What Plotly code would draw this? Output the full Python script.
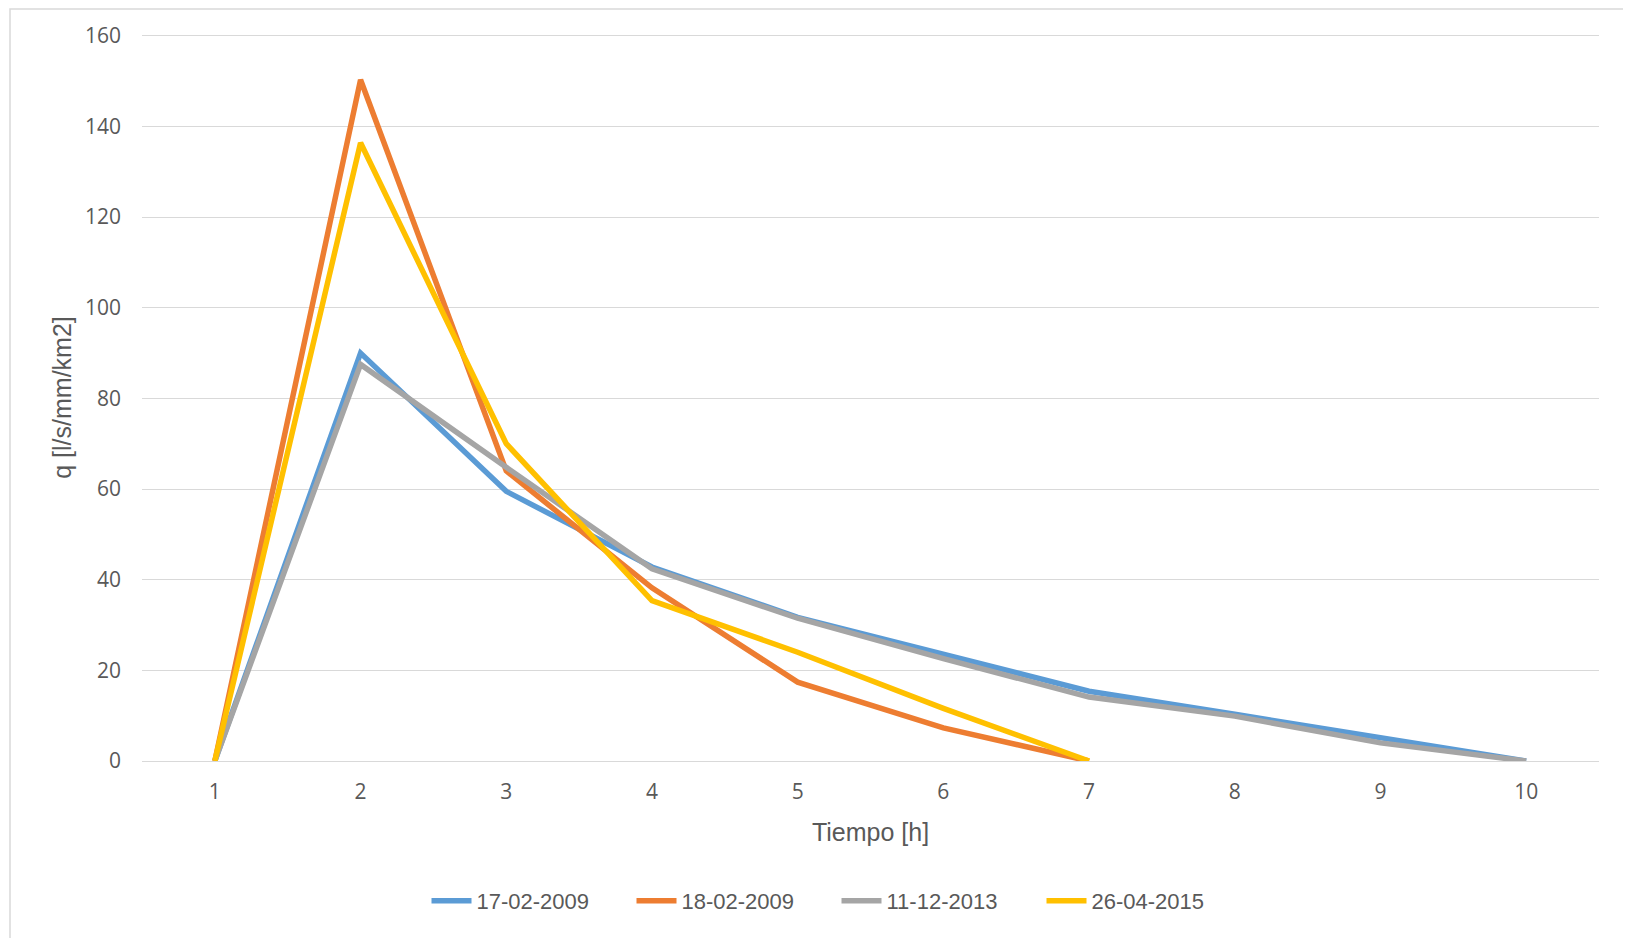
import plotly.graph_objects as go

tiempo = [1, 2, 3, 4, 5, 6, 7, 8, 9, 10]
s_17_02_2009 = [0, 90.0, 59.5, 42.8, 31.7, 23.4, 15.4, 10.3, 5.0, 0]
s_18_02_2009 = [0, 150.3, 64.0, 38.2, 17.4, 7.3, 0]
s_11_12_2013 = [0, 87.5, 64.8, 42.4, 31.5, 22.6, 14.1, 9.9, 4.0, 0]
s_26_04_2015 = [0, 136.4, 70.0, 35.4, 24.0, 11.6, 0]

names = ["17-02-2009", "18-02-2009", "11-12-2013", "26-04-2015"]
series = [s_17_02_2009, s_18_02_2009, s_11_12_2013, s_26_04_2015]
colors = ["#5B9BD5", "#ED7D31", "#A5A5A5", "#FFC000"]

fig = go.Figure()
for n, s, c in zip(names, series, colors):
    fig.add_trace(go.Scatter(x=tiempo[:len(s)], y=s, name=n, mode="lines",
                             line=dict(color=c, width=5.5)))

title_font = "Liberation Sans Narrow, Liberation Sans, sans-serif"
tick_font = "Open Sans, sans-serif"

# page has an 8px body margin; figure sized/positioned to compensate
W, H = 1623, 930
L, R, T, B = 134, 32, 26, 177
pw = W - L - R
ph = H - T - B

def px(xpage):
    return (xpage - 8 - L) / pw

def py(ypage):
    return 1 - (ypage - 8 - T) / ph

fig.update_layout(
    width=W, height=H,
    margin=dict(l=L, r=R, t=T, b=B),
    paper_bgcolor="white", plot_bgcolor="white",
    showlegend=True,
    legend=dict(orientation="h", x=px(836.5), xanchor="center", y=py(901), yanchor="middle",
                font=dict(family=title_font, size=22, color="#595959"),
                entrywidth=150, entrywidthmode="pixels", itemwidth=40),
    xaxis=dict(range=[0.5, 10.5], tickvals=tiempo, ticktext=[str(t) for t in tiempo],
               showgrid=False, zeroline=False, showline=False, ticks="",
               ticklabelstandoff=16,
               tickfont=dict(family=tick_font, size=21, color="#595959"),
               title=dict(text="Tiempo [h]", standoff=19,
                          font=dict(family=title_font, size=25, color="#595959"))),
    yaxis=dict(range=[0, 160.4], tickvals=[0, 20, 40, 60, 80, 100, 120, 140, 160],
               showgrid=True, gridcolor="#D9D9D9", gridwidth=1,
               zeroline=True, zerolinecolor="#D9D9D9", zerolinewidth=1,
               showline=False, ticks="", ticklabelstandoff=20,
               tickfont=dict(family=tick_font, size=21, color="#595959"),
               title=dict(text="q [l/s/mm/km2]", standoff=6,
                          font=dict(family=title_font, size=25, color="#595959"))),
    shapes=[dict(type="rect", xref="paper", yref="paper",
                 x0=px(10), x1=px(1628), y0=py(960), y1=py(9),
                 line=dict(color="#D9D9D9", width=1.5), fillcolor="rgba(0,0,0,0)", layer="below")],
)
fig.write_html("out.html")
